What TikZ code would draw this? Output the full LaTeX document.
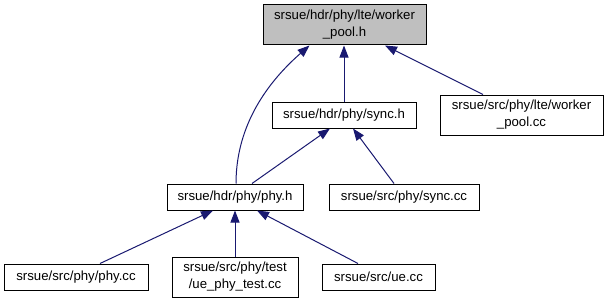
\documentclass[tikz,border=0pt]{standalone}
\usepackage{fontspec}
\setmainfont{Liberation Sans}
\usetikzlibrary{arrows.meta}
\definecolor{edgeblue}{HTML}{191970}
\definecolor{rootgray}{HTML}{BFBFBF}
\begin{document}
\begin{tikzpicture}[x=1pt,y=-1pt,
  filebox/.style={draw=black, line width=1pt, fill=white, inner sep=0pt,
    align=center, font=\fontsize{13.2}{17}\selectfont},
  rootbox/.style={filebox, fill=rootgray},
  dep/.style={draw=edgeblue, line width=1pt,
    -{Triangle[length=12pt,width=9pt,fill=edgeblue]}}]
\useasboundingbox (0,0) rectangle (609,305);

% header and source files
\node[rootbox, minimum width=163pt, minimum height=40pt] (wp) at (344.5,25)
  {srsue/hdr/phy/lte/worker\\\_pool.h};
\node[filebox, minimum width=144pt, minimum height=26pt] (synch) at (344,115)
  {srsue/hdr/phy/sync.h};
\node[filebox, minimum width=163pt, minimum height=40pt] (wpcc) at (521.5,115)
  {srsue/src/phy/lte/worker\\\_pool.cc};
\node[filebox, minimum width=136pt, minimum height=26pt] (phyh) at (235,197)
  {srsue/hdr/phy/phy.h};
\node[filebox, minimum width=150pt, minimum height=26pt] (synccc) at (404,197)
  {srsue/src/phy/sync.cc};
\node[filebox, minimum width=144pt, minimum height=26pt] (phycc) at (76,277)
  {srsue/src/phy/phy.cc};
\node[filebox, minimum width=126pt, minimum height=40pt] (test) at (235,277)
  {srsue/src/phy/test\\/ue\_phy\_test.cc};
\node[filebox, minimum width=113pt, minimum height=26pt] (uecc) at (378.5,277)
  {srsue/src/ue.cc};

% include dependencies
\draw[dep] ([xshift=1pt]phyh.north) .. controls +(0,-60) and +(-40,35) .. ([xshift=-35pt]wp.south);
\draw[dep] (synch.north) -- (synch.north |- wp.south);
\draw[dep] ([xshift=-38.5pt]wpcc.north) -- ([xshift=40.5pt]wp.south);
\draw[dep] ([xshift=17pt]phyh.north) -- ([xshift=-14pt]synch.south);
\draw[dep] ([xshift=-10pt]synccc.north) -- ([xshift=9pt]synch.south);
\draw[dep] ([xshift=24pt]phycc.north) -- ([xshift=-22pt]phyh.south);
\draw[dep] (test.north) -- (phyh.south);
\draw[dep] ([xshift=-20.5pt]uecc.north) -- ([xshift=22pt]phyh.south);
\end{tikzpicture}
\end{document}
